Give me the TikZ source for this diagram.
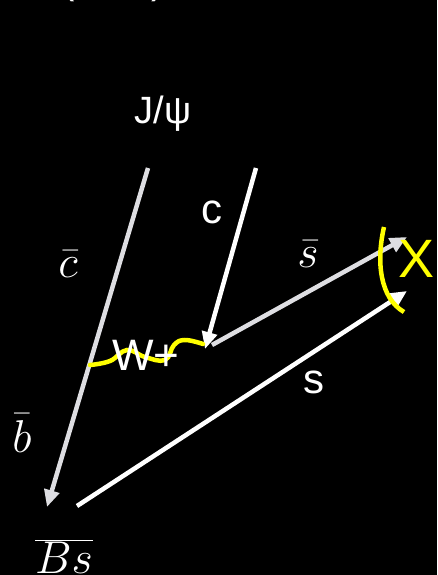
\documentclass[tikz,border=0pt]{standalone}
\usepackage{fix-cm}
\usepackage{fontspec}
\setmainfont{Liberation Sans}
\usetikzlibrary{arrows.meta}
\definecolor{lgray}{HTML}{DEDEE2}
\definecolor{hiyel}{HTML}{FFFF00}
\tikzset{
  quark/.style={line width=4.5pt,-{Triangle[length=17pt,width=15pt]}},
  lbl/.style={text=white,anchor=base,inner sep=0pt},
  mlbl/.style={text=white,anchor=base,inner sep=0pt,font=\fontsize{46}{50}\selectfont},
}
\begin{document}
\begin{tikzpicture}[x=1pt,y=-1pt]
\fill[black] (0,0) rectangle (437,575);
\useasboundingbox (0,0) rectangle (437,575);
% clipped parentheses at the top
\node[lbl,font=\fontsize{40}{44}\selectfont] (lp) at (68,-6) {(};
\node[lbl,font=\fontsize{40}{44}\selectfont] (rp) at (158,-6) {)};
% endpoints
\coordinate (cbTop) at (148,168);
\coordinate (cbTip) at (47,507);
\coordinate (cTop) at (256,168);
\coordinate (vW) at (205,349);
\coordinate (sbStart) at (212,345);
\coordinate (sbTip) at (407,237);
\coordinate (sStart) at (77,506);
\coordinate (sTip) at (407,291);
\coordinate (wL) at (90,365);
% quark lines
\draw[quark,lgray,line cap=butt] (cbTop) -- (cbTip);
\draw[quark,white] (cTop) -- (vW);
\draw[quark,lgray] (sbStart) -- (sbTip);
\draw[quark,white] (sStart) -- (sTip);
% W+ wavy line
\draw[hiyel,line width=4.5pt,line cap=round] plot[smooth,tension=0.7] coordinates
  {(wL) (110,361) (127,350) (145,357) (165,360) (174,345) (185,340) (203,344)};
% yellow bracket
\draw[hiyel,line width=4.5pt] (384,227) .. controls (376,262) and (380,298) .. (404,312);
% labels
\node[lbl,font=\fontsize{38}{42}\selectfont] (jpsi) at (163,124) {J/ψ};
\node[lbl,font=\fontsize{42}{46}\selectfont] (cl) at (212,223) {c};
\node[lbl,font=\fontsize{42}{46}\selectfont] (sl) at (314,393) {s};
\node[lbl,font=\fontsize{44}{48}\selectfont] (wl) at (146,370) {W+};
\node[lbl,text=hiyel,font=\fontsize{54}{58}\selectfont] (xl) at (417,277) {X};
\node[mlbl] (cbl) at (68,277) {$\bar{c}$};
\node[mlbl] (sbl) at (308,267) {$\bar{s}$};
\node[mlbl] (bbl) at (22,452) {$\bar{b}$};
\node[mlbl] (bsl) at (64,573) {$\overline{Bs}$};
\end{tikzpicture}
\end{document}
